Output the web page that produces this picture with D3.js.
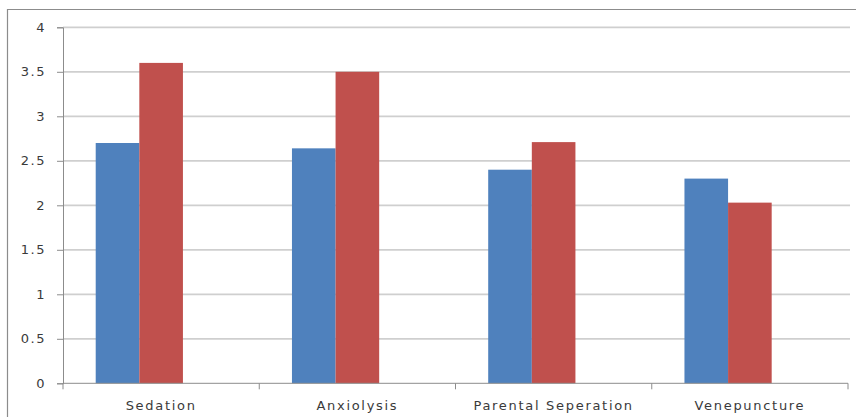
<!DOCTYPE html>
<html>
<head>
<meta charset="utf-8">
<script src="https://cdn.jsdelivr.net/npm/d3@7"></script>
<style>
  html, body { margin: 0; padding: 0; background: #fff; }
  svg { display: block; }
</style>
</head>
<body>
<script>
const categories = ["Sedation", "Anxiolysis", "Parental Seperation", "Venepuncture"];
const series1 = [2.70, 2.64, 2.40, 2.30];
const series2 = [3.60, 3.50, 2.71, 2.03];
const seriesNames = ["Series1", "Series2", "Series3"];
const seriesValues = [series1, series2];
const yTicks = [0, 0.5, 1, 1.5, 2, 2.5, 3, 3.5, 4];
const colors = ["#4F81BD", "#C0504D"];

const W = 856, H = 417;
const m = { left: 63, right: 8, top: 27.3, bottom: 33.7 };

const svg = d3.select("body").append("svg").attr("width", W).attr("height", H);

// outer chart border
svg.append("path")
  .attr("d", `M7.5,${H} L7.5,9.5 L${W},9.5`)
  .attr("fill", "none").attr("stroke", "#8c8c8c").attr("stroke-width", 1.2);

const x = d3.scaleBand().domain(categories).range([m.left, W - m.right]).paddingInner(0).paddingOuter(0);
const y = d3.scaleLinear().domain([0, 4]).range([H - m.bottom, m.top]);
// Excel-like: 3 series slots, gap width 150%
const slot = x.bandwidth() / (3 + 1.5);
const groupOffset = slot * 0.75;

// gridlines
svg.append("g").selectAll("line").data(yTicks.filter(d => d > 0)).join("line")
  .attr("x1", m.left).attr("x2", W - m.right + 2)
  .attr("y1", d => y(d)).attr("y2", d => y(d))
  .attr("stroke", "#cfcfcf").attr("stroke-width", 1.8);

// bars
seriesValues.forEach((vals, si) => {
  svg.append("g").selectAll("rect").data(categories.map((c, i) => ({ c, v: vals[i] }))).join("rect")
    .attr("x", d => x(d.c) + groupOffset + si * slot)
    .attr("width", slot)
    .attr("y", d => y(d.v))
    .attr("height", d => y(0) - y(d.v))
    .attr("fill", colors[si]);
});

const font = "DejaVu Sans, Verdana, sans-serif";

// y axis
const yAxis = d3.axisLeft(y).tickValues(yTicks).tickSize(6).tickPadding(11).tickFormat(d3.format("~g"));
const gy = svg.append("g").attr("transform", `translate(${m.left},0)`).call(yAxis);
gy.select(".domain").attr("stroke", "#8c8c8c");
gy.selectAll(".tick line").attr("stroke", "#8c8c8c");
gy.selectAll("text").attr("fill", "#3a3a3a").style("font-family", font).style("font-size", "13px").style("letter-spacing", "1.5px");

// x axis
const xAxis = d3.axisBottom(x).tickSize(0).tickPadding(17);
const gx = svg.append("g").attr("transform", `translate(0,${y(0)})`).call(xAxis);
gx.select(".domain").attr("stroke", "#8c8c8c").attr("d", `M${m.left},0H${W - m.right}`);
gx.selectAll("text").attr("fill", "#3a3a3a").style("font-family", font).style("font-size", "13px").style("letter-spacing", "1.7px");
// category boundary tick marks
svg.append("g").selectAll("line").data(categories.map(c => x(c)).concat([x(categories[categories.length - 1]) + x.bandwidth()])).join("line")
  .attr("x1", d => d).attr("x2", d => d)
  .attr("y1", y(0)).attr("y2", y(0) + 6)
  .attr("stroke", "#8c8c8c");
</script>
</body>
</html>
